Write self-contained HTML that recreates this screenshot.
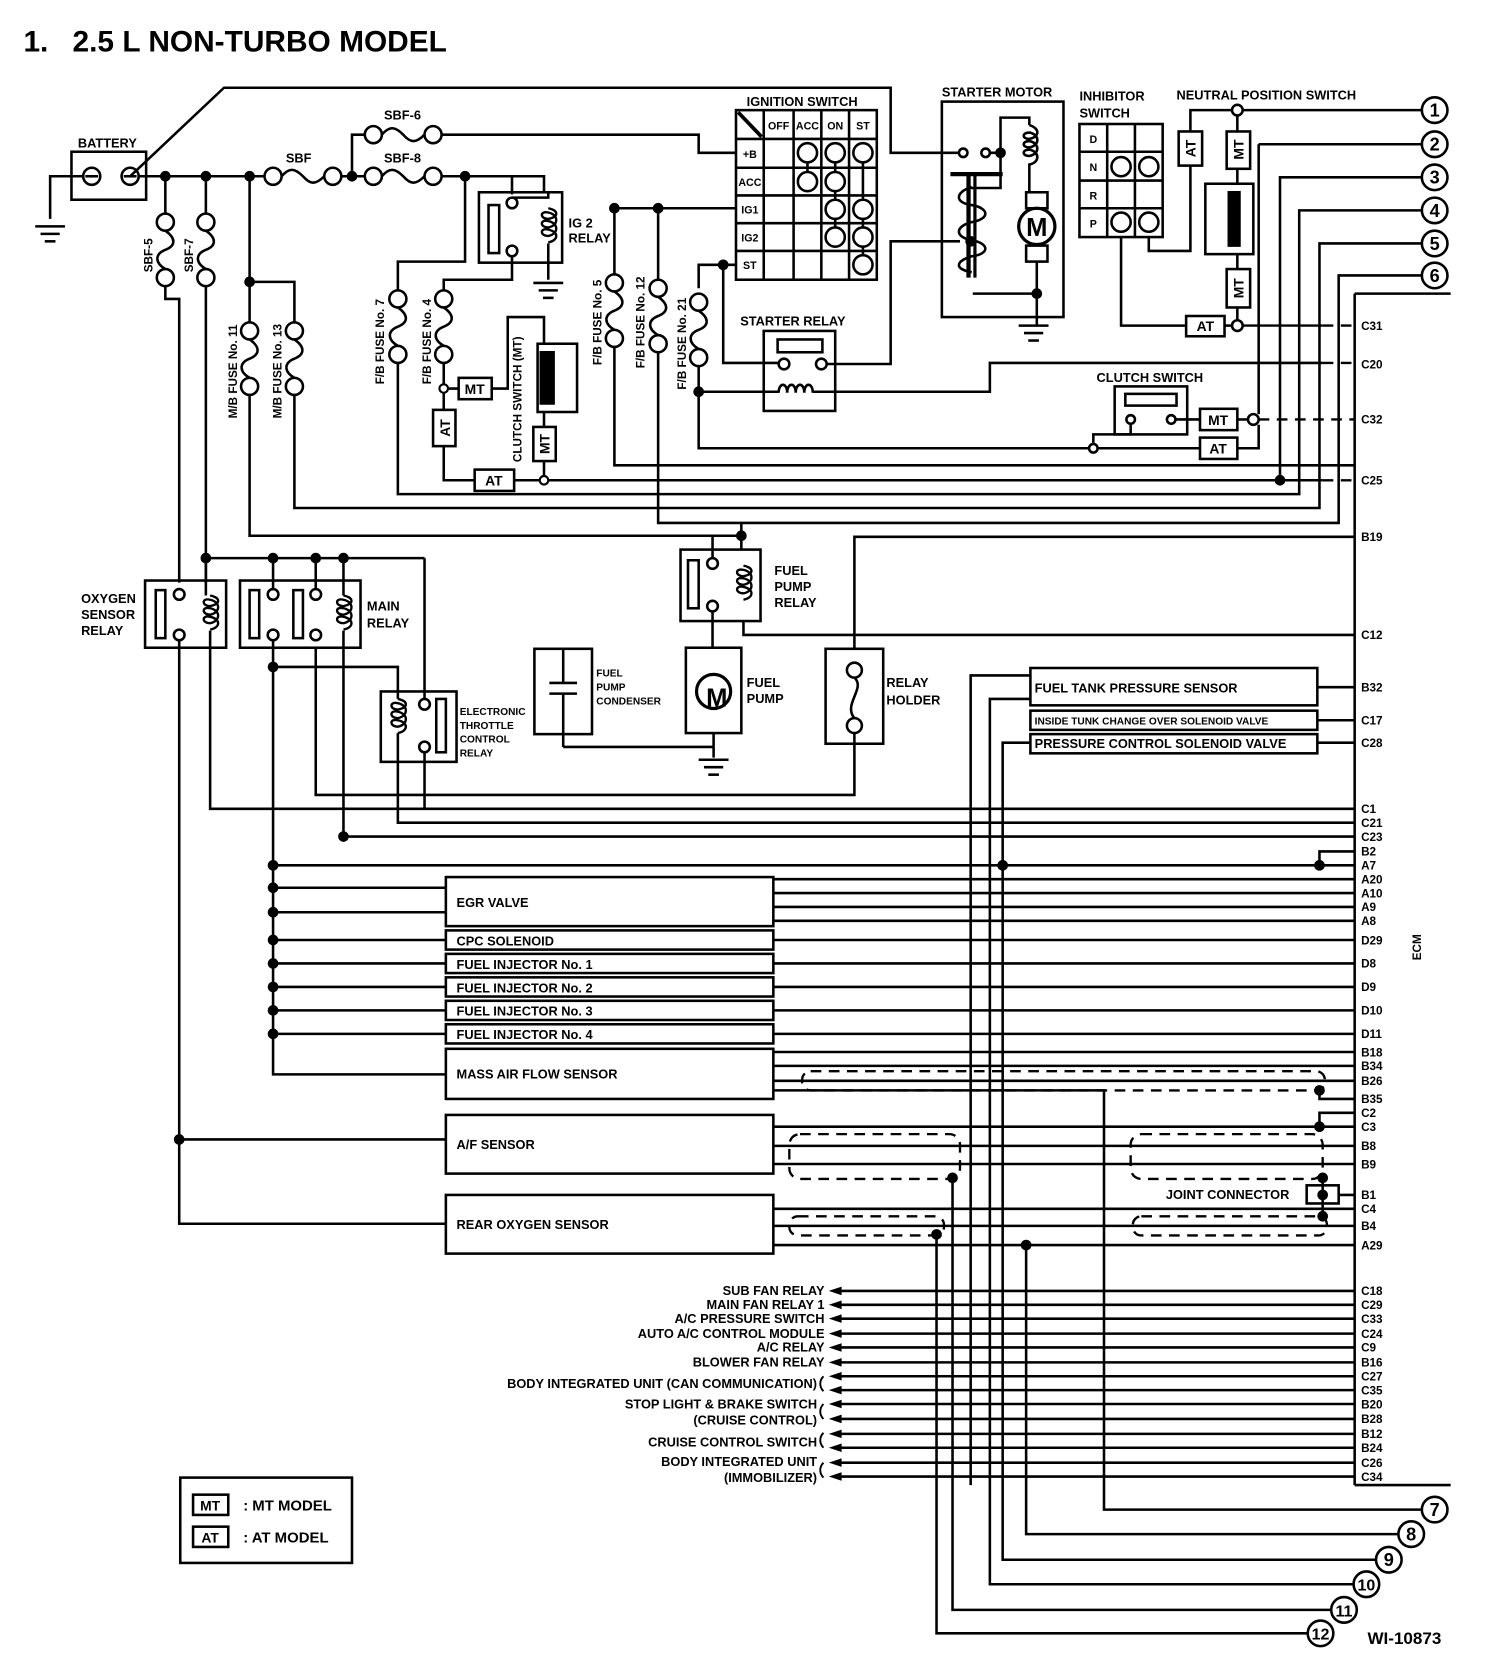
<!DOCTYPE html>
<html><head><meta charset="utf-8"><style>
html,body{margin:0;padding:0;background:#fff}
svg{display:block}
text{font-family:"Liberation Sans",sans-serif;font-weight:bold;fill:#000}
</style></head><body>
<svg width="1504" height="1672" viewBox="0 0 1410 1567" xmlns="http://www.w3.org/2000/svg">
<defs>
<g id="fv"><circle cx="0" cy="0" r="8" fill="#fff" stroke="#000" stroke-width="2.4"/><circle cx="0" cy="52" r="8" fill="#fff" stroke="#000" stroke-width="2.4"/><path d="M0,8 C10,15 10,22 0,26 C-10,30 -10,38 0,44" fill="none" stroke="#000" stroke-width="2.4"/></g>
<g id="fh"><circle cx="0" cy="0" r="8" fill="#fff" stroke="#000" stroke-width="2.4"/><circle cx="56" cy="0" r="8" fill="#fff" stroke="#000" stroke-width="2.4"/><path d="M8,0 C15,-8 20,-8 28,0 C35,8 40,8 48,0" fill="none" stroke="#000" stroke-width="2.4"/></g>
<g id="coil"><path d="M0,0 C10,2 10,8 0,10 C-8,10 -8,2 0,4 C10,6 10,16 0,18 C-8,18 -8,10 0,12 C10,14 10,24 0,26 C-8,26 -8,18 0,20 C10,22 10,30 0,32" fill="none" stroke="#000" stroke-width="2.2"/></g>
<g id="gnd"><line x1="-14" y1="0" x2="14" y2="0"/><line x1="-9" y1="7" x2="9" y2="7"/><line x1="-5" y1="14" x2="5" y2="14"/></g>
</defs>
<text x="22" y="48" font-size="28">1.</text><text x="68" y="48" font-size="28">2.5 L NON-TURBO MODEL</text>

<g stroke="#000" stroke-width="2.4" fill="none">
<rect x="67" y="142" width="70" height="45"/>
<circle cx="86" cy="165" r="8"/><line x1="80" y1="165" x2="92" y2="165"/>
<circle cx="122" cy="165" r="8"/><line x1="116" y1="165" x2="128" y2="165"/>
<polyline points="78,165 47,165 47,205"/>
<polyline points="122,165 210,82 835,82 835,143 900,143"/>
<line x1="130" y1="165" x2="248" y2="165"/>
<line x1="320" y1="165" x2="342" y2="165"/>
<polyline points="330,165 330,126 342,126"/>
<polyline points="413,126 655,126 655,143 690,143"/>
<polyline points="413,165 510,165 510,180"/>
<polyline points="480,165 480,182"/>
<rect x="449" y="180" width="78" height="66"/>
<rect x="458" y="192" width="10" height="45"/>
<circle cx="480" cy="190" r="5"/><circle cx="480" cy="235" r="5"/>
<use href="#coil" x="514" y="195"/>
<polyline points="514,180 514,185 480,185"/>
<polyline points="514,228 514,262"/>
<polyline points="436,165 436,245 373,245 373,276"/>
<polyline points="480,240 480,262 416,262 416,274"/>
<line x1="155" y1="165" x2="155" y2="200"/>
<polyline points="155,268 155,280 168,280 168,546"/>
<line x1="193" y1="165" x2="193" y2="200"/>
<line x1="193" y1="268" x2="193" y2="546"/>
<line x1="234" y1="165" x2="234" y2="302"/>
<polyline points="234,264 276,264 276,302"/>
<polyline points="234,370 234,502 695,502"/>
<polyline points="276,370 276,476 1237,476 1237,228 1333,228"/>
<polyline points="373,340 373,463 1218,463 1218,197 1333,197"/>
<polyline points="416,340 416,364 430,364"/>
<rect x="430" y="354" width="31" height="20"/>
<polyline points="461,364 476,364 476,297 510,297 510,322"/>
<rect x="504" y="322" width="37" height="64"/>
<rect x="507" y="330" width="12" height="48" fill="#000"/>
<line x1="510" y1="386" x2="510" y2="400"/>
<rect x="500" y="400" width="21" height="32"/>
<line x1="510" y1="432" x2="510" y2="450"/>
<line x1="416" y1="364" x2="416" y2="384"/>
<rect x="406" y="384" width="21" height="34"/>
<polyline points="416,418 416,450 445,450"/>
<rect x="445" y="440" width="37" height="20"/>
<line x1="482" y1="450" x2="1240" y2="450"/>
<polyline points="1200,450 1200,166 1333,166"/>
<line x1="576" y1="195" x2="690" y2="195"/>
<line x1="576" y1="195" x2="576" y2="262"/>
<polyline points="576,320 576,436 1270,436"/>
<line x1="617" y1="195" x2="617" y2="268"/>
<polyline points="617,330 617,490 1255,490 1255,258 1333,258"/>
<polyline points="690,248 655,248 655,270"/>
<polyline points="678,248 678,340 730,340"/>
<polyline points="655,330 655,420 1020,420"/>
<polyline points="655,367 730,367"/>
<rect x="716" y="310" width="67" height="75"/>
<rect x="729" y="318" width="42" height="12"/>
<circle cx="735" cy="341" r="5"/><circle cx="770" cy="341" r="5"/>
<path d="M730,368 c0,-10 8,-10 8,0 c0,-10 8,-10 8,0 c0,-10 8,-10 8,0 c0,-10 8,-10 8,0"/>
<polyline points="775,341 835,341 835,226 900,226"/>
<polyline points="762,367 928,367 928,340 1240,340"/>
<rect x="690" y="103" width="132" height="159"/>
<line x1="716" y1="103" x2="716" y2="262"/><line x1="744" y1="103" x2="744" y2="262"/>
<line x1="770" y1="103" x2="770" y2="262"/><line x1="796" y1="103" x2="796" y2="262"/>
<line x1="690" y1="130" x2="822" y2="130"/><line x1="690" y1="157" x2="822" y2="157"/>
<line x1="690" y1="183" x2="822" y2="183"/><line x1="690" y1="209" x2="822" y2="209"/>
<line x1="690" y1="235" x2="822" y2="235"/>
<line x1="692" y1="105" x2="714" y2="128" stroke-width="3.5"/>
<line x1="757" y1="143" x2="757" y2="170"/>
<line x1="783" y1="143" x2="783" y2="222"/>
<line x1="809" y1="143" x2="809" y2="248"/>
<g fill="#fff">
<circle cx="757" cy="143" r="9"/><circle cx="783" cy="143" r="9"/><circle cx="809" cy="143" r="9"/>
<circle cx="757" cy="170" r="9"/><circle cx="783" cy="170" r="9"/>
<circle cx="783" cy="196" r="9"/><circle cx="809" cy="196" r="9"/>
<circle cx="783" cy="222" r="9"/><circle cx="809" cy="222" r="9"/>
<circle cx="809" cy="248" r="9"/>
</g>
<rect x="883" y="95" width="114" height="202"/>
<circle cx="903" cy="143" r="4"/><circle cx="924" cy="143" r="4"/>
<polyline points="928,143 938,143 938,110 965,110 965,117"/>
<polyline points="938,143 938,176 910,176"/>
<line x1="891" y1="163" x2="940" y2="163" stroke-width="4"/>
<line x1="908" y1="163" x2="908" y2="260" stroke-width="4"/>
<line x1="914" y1="163" x2="914" y2="260" stroke-width="3"/>
<path d="M911,175 C895,180 895,190 911,192 C928,195 928,205 911,208 C895,212 895,222 911,225 C928,228 928,238 911,240 C895,245 895,252 911,255"/>
<path d="M965,117 C975,120 975,128 965,130 C958,130 958,124 965,124 C975,126 975,136 965,138 C958,138 958,132 965,132 C975,134 975,144 965,146 C958,146 958,140 965,140 C975,142 975,152 965,154 L965,180"/>
<rect x="962" y="180" width="20" height="15"/><rect x="962" y="230" width="20" height="15"/>
<circle cx="972" cy="212" r="17" stroke-width="3"/>
<polyline points="972,245 972,275 912,275"/>
<line x1="972" y1="275" x2="972" y2="305"/>
<rect x="1012" y="116" width="78" height="106"/>
<line x1="1038" y1="116" x2="1038" y2="222"/><line x1="1064" y1="116" x2="1064" y2="222"/>
<line x1="1012" y1="142" x2="1090" y2="142"/><line x1="1012" y1="169" x2="1090" y2="169"/><line x1="1012" y1="195" x2="1090" y2="195"/>
<circle cx="1051" cy="156" r="9"/><circle cx="1077" cy="156" r="9"/>
<circle cx="1051" cy="208" r="9"/><circle cx="1077" cy="208" r="9"/>
<polyline points="1077,222 1077,235 1116,235 1116,155"/>
<rect x="1105" y="123" width="22" height="32"/>
<polyline points="1116,123 1116,103 1333,103"/>
<circle cx="1160" cy="103" r="5" fill="#fff"/>
<rect x="1150" y="123" width="22" height="35"/>
<line x1="1160" y1="108" x2="1160" y2="123"/>
<line x1="1160" y1="158" x2="1160" y2="172"/>
<rect x="1130" y="172" width="45" height="66"/>
<rect x="1152" y="180" width="10" height="50" fill="#000"/>
<line x1="1160" y1="238" x2="1160" y2="252"/>
<rect x="1150" y="252" width="22" height="36"/>
<line x1="1160" y1="288" x2="1160" y2="300"/>
<circle cx="1160" cy="305" r="5" fill="#fff"/>
<polyline points="1051,222 1051,305 1112,305"/>
<rect x="1112" y="296" width="36" height="19"/>
<line x1="1148" y1="305" x2="1155" y2="305"/>
<polyline points="1180,135 1333,135"/><line x1="1180" y1="135" x2="1180" y2="388"/>
<line x1="1270" y1="275" x2="1360" y2="275"/>
<rect x="1045" y="362" width="68" height="45"/>
<rect x="1055" y="369" width="48" height="11"/>
<circle cx="1060" cy="393" r="4"/><circle cx="1098" cy="393" r="4"/>
<polyline points="1060,397 1060,407 1025,407 1025,415"/>
<circle cx="1025" cy="420" r="4" fill="#fff"/>
<polyline points="1029,420 1125,420"/>
<line x1="1102" y1="393" x2="1125" y2="393"/>
<rect x="1125" y="383" width="35" height="20"/>
<rect x="1125" y="410" width="35" height="20"/>
<line x1="1160" y1="393" x2="1170" y2="393"/>
<polyline points="1160,420 1180,420 1180,398"/>
<circle cx="1175" cy="393" r="5" fill="#fff"/>
<line x1="1270" y1="275" x2="1270" y2="1392"/>
<line x1="1270" y1="1392" x2="1360" y2="1392"/>
<line x1="695" y1="490" x2="695" y2="515"/>
<rect x="638" y="515" width="75" height="67"/>
<rect x="645" y="525" width="10" height="45"/>
<circle cx="668" cy="528" r="5"/><circle cx="668" cy="568" r="5"/>
<use href="#coil" x="697" y="530"/>
<polyline points="668,523 668,502"/>
<polyline points="697,582 697,595 1270,595"/>
<line x1="668" y1="573" x2="668" y2="607"/>
<rect x="643" y="607" width="52" height="80"/>
<circle cx="669" cy="648" r="16" stroke-width="3"/>
<polyline points="669,687 669,710"/>
<rect x="501" y="608" width="54" height="80"/>
<line x1="528" y1="608" x2="528" y2="640"/><line x1="515" y1="640" x2="541" y2="640"/><line x1="515" y1="650" x2="541" y2="650"/><line x1="528" y1="650" x2="528" y2="700"/>
<polyline points="528,700 669,700"/>
<rect x="774" y="608" width="54" height="89"/>
<circle cx="801" cy="628" r="7"/><circle cx="801" cy="680" r="7"/>
<path d="M801,635 C812,645 790,660 801,673"/>
<polyline points="801,608 801,503 1270,503"/>
<polyline points="801,687 801,745 296,745 296,606"/>
<rect x="136" y="544" width="76" height="63"/>
<rect x="146" y="553" width="9" height="45"/>
<circle cx="168" cy="557" r="5"/><circle cx="168" cy="595" r="5"/>
<use href="#coil" x="197" y="558"/>
<polyline points="168,600 168,1147 418,1147"/>
<polyline points="197,591 197,607 197,758 1270,758"/>
<line x1="193" y1="523" x2="193" y2="558"/>
<line x1="193" y1="523" x2="398" y2="523"/>
<polyline points="398,523 398,655"/>
<line x1="168" y1="1068" x2="418" y2="1068"/>
<rect x="225" y="544" width="113" height="63"/>
<rect x="234" y="553" width="9" height="45"/>
<rect x="275" y="553" width="9" height="45"/>
<circle cx="256" cy="557" r="5"/><circle cx="256" cy="595" r="5"/>
<circle cx="296" cy="557" r="5"/><circle cx="296" cy="595" r="5"/>
<use href="#coil" x="322" y="558"/>
<line x1="256" y1="523" x2="256" y2="552"/><line x1="296" y1="523" x2="296" y2="552"/><line x1="322" y1="523" x2="322" y2="558"/>
<polyline points="322,591 322,784 1270,784"/>
<polyline points="256,600 256,1007 418,1007"/>
<polyline points="256,625 373,625 373,655"/>
<rect x="357" y="648" width="71" height="66"/>
<use href="#coil" x="373" y="655"/>
<circle cx="398" cy="660" r="5"/><circle cx="398" cy="700" r="5"/>
<rect x="409" y="655" width="9" height="50"/>
<polyline points="373,687 373,771 1270,771"/>
<polyline points="398,705 398,758"/>
<rect x="966" y="626" width="269" height="35"/>
<rect x="966" y="666" width="269" height="18"/>
<rect x="966" y="688" width="269" height="18"/>
<line x1="1235" y1="644" x2="1270" y2="644"/>
<line x1="1235" y1="675" x2="1270" y2="675"/>
<line x1="1235" y1="696" x2="1270" y2="696"/>
<polyline points="966,633 910,633 910,1392"/>
<polyline points="966,655 928,655 928,1485 1269,1485"/>
<polyline points="966,696 940,696 940,1462 1290,1462"/>
<line x1="256" y1="811" x2="1270" y2="811"/>
<polyline points="1237,811 1237,798 1270,798"/>
<rect x="418" y="822" width="307" height="46"/>
<rect x="418" y="872" width="307" height="18"/>
<rect x="418" y="894" width="307" height="18"/>
<rect x="418" y="916" width="307" height="18"/>
<rect x="418" y="938" width="307" height="18"/>
<rect x="418" y="960" width="307" height="18"/>
<rect x="418" y="983" width="307" height="47"/>
<rect x="418" y="1045" width="307" height="55"/>
<rect x="418" y="1120" width="307" height="55"/>
<line x1="256" y1="832" x2="418" y2="832"/><line x1="256" y1="855" x2="418" y2="855"/>
<line x1="256" y1="881" x2="418" y2="881"/><line x1="256" y1="903" x2="418" y2="903"/>
<line x1="256" y1="925" x2="418" y2="925"/><line x1="256" y1="947" x2="418" y2="947"/>
<line x1="256" y1="969" x2="418" y2="969"/>
<line x1="725" y1="824" x2="1270" y2="824"/><line x1="725" y1="837" x2="1270" y2="837"/>
<line x1="725" y1="850" x2="1270" y2="850"/><line x1="725" y1="863" x2="1270" y2="863"/>
<line x1="725" y1="881" x2="1270" y2="881"/><line x1="725" y1="903" x2="1270" y2="903"/>
<line x1="725" y1="925" x2="1270" y2="925"/><line x1="725" y1="947" x2="1270" y2="947"/>
<line x1="725" y1="969" x2="1270" y2="969"/>
<line x1="725" y1="986" x2="1270" y2="986"/><line x1="725" y1="999" x2="1270" y2="999"/>
<line x1="725" y1="1013" x2="1270" y2="1013"/>
<polyline points="1237,1022 1237,1030 1270,1030"/>
<polyline points="725,1022 1035,1022 1035,1415 1333,1415"/>
<polyline points="1237,1056 1237,1043 1270,1043"/>
<line x1="725" y1="1056" x2="1270" y2="1056"/>
<line x1="725" y1="1074" x2="1270" y2="1074"/><line x1="725" y1="1091" x2="1270" y2="1091"/>
<polyline points="893,1104 893,1509 1248,1509"/>
<rect x="1225" y="1111" width="30" height="17"/>
<line x1="1255" y1="1120" x2="1270" y2="1120"/>
<line x1="1240" y1="1104" x2="1240" y2="1140"/>
<line x1="725" y1="1133" x2="1270" y2="1133"/>
<line x1="725" y1="1149" x2="1270" y2="1149"/>
<line x1="725" y1="1167" x2="1270" y2="1167"/>
<polyline points="878,1157 878,1531 1226,1531"/>
<polyline points="962,1167 962,1438 1311,1438"/>
<line x1="785" y1="1210" x2="1270" y2="1210"/><line x1="785" y1="1223" x2="1270" y2="1223"/>
<line x1="785" y1="1236" x2="1270" y2="1236"/><line x1="785" y1="1250" x2="1270" y2="1250"/>
<line x1="785" y1="1263" x2="1270" y2="1263"/><line x1="785" y1="1277" x2="1270" y2="1277"/>
<line x1="785" y1="1290" x2="1270" y2="1290"/><line x1="785" y1="1303" x2="1270" y2="1303"/>
<line x1="785" y1="1316" x2="1270" y2="1316"/><line x1="785" y1="1330" x2="1270" y2="1330"/>
<line x1="785" y1="1344" x2="1270" y2="1344"/><line x1="785" y1="1357" x2="1270" y2="1357"/>
<line x1="785" y1="1371" x2="1270" y2="1371"/><line x1="785" y1="1384" x2="1270" y2="1384"/>
<path d="M772,1290 c-4,4 -4,10 0,14 M772,1316 c-4,4 -4,10 0,14 M772,1343 c-4,4 -4,10 0,14 M772,1371 c-4,4 -4,10 0,14" stroke-width="1.8"/>
<rect x="169" y="1385" width="161" height="80"/>
<rect x="181" y="1401" width="33" height="19"/>
<rect x="181" y="1431" width="33" height="19"/>
</g>
<g fill="#000">
<path d="M777,1210 l12,-4 v8z M777,1223 l12,-4 v8z M777,1236 l12,-4 v8z M777,1250 l12,-4 v8z M777,1263 l12,-4 v8z M777,1277 l12,-4 v8z M777,1290 l12,-4 v8z M777,1303 l12,-4 v8z M777,1316 l12,-4 v8z M777,1330 l12,-4 v8z M777,1344 l12,-4 v8z M777,1357 l12,-4 v8z M777,1371 l12,-4 v8z M777,1384 l12,-4 v8z"/>
</g>
<use href="#fh" x="256" y="165"/>
<use href="#fh" x="350" y="126"/>
<use href="#fh" x="350" y="165"/>
<use href="#fv" x="155" y="208"/>
<use href="#fv" x="193" y="208"/>
<use href="#fv" x="234" y="310"/>
<use href="#fv" x="276" y="310"/>
<use href="#fv" x="373" y="280"/>
<use href="#fv" x="416" y="280"/>
<use href="#fv" x="576" y="265"/>
<use href="#fv" x="617" y="270"/>
<use href="#fv" x="655" y="283"/>
<g stroke="#000" stroke-width="2.4"><use href="#gnd" x="47" y="212"/><use href="#gnd" x="514" y="265"/><use href="#gnd" x="969" y="305"/><use href="#gnd" x="669" y="712"/></g>
<g stroke="#000" stroke-width="2.2" fill="none" stroke-dasharray="10,7">
<line x1="1165" y1="305" x2="1240" y2="305" stroke-dasharray="none"/>
<line x1="1240" y1="305" x2="1270" y2="305"/>
<line x1="1240" y1="340" x2="1270" y2="340"/>
<line x1="1180" y1="393" x2="1270" y2="393"/>
<line x1="1240" y1="450" x2="1270" y2="450"/>
<rect x="752" y="1004" width="490" height="18" rx="8"/>
<rect x="740" y="1063" width="160" height="42" rx="10"/>
<rect x="1060" y="1063" width="180" height="42" rx="10"/>
<rect x="740" y="1140" width="145" height="18" rx="8"/>
<rect x="1062" y="1140" width="182" height="18" rx="8"/>
</g>
<g fill="#000">
<circle cx="155" cy="165" r="5"/><circle cx="193" cy="165" r="5"/><circle cx="234" cy="165" r="5"/><circle cx="330" cy="165" r="5"/><circle cx="436" cy="165" r="5"/>
<circle cx="234" cy="264" r="5"/><circle cx="576" cy="195" r="5"/><circle cx="617" cy="195" r="5"/><circle cx="678" cy="248" r="5"/><circle cx="655" cy="367" r="5"/>
<circle cx="938" cy="143" r="5"/><circle cx="910" cy="226" r="5"/><circle cx="972" cy="275" r="5"/>
<circle cx="1200" cy="450" r="5"/><circle cx="695" cy="502" r="5"/>
<circle cx="193" cy="523" r="5"/><circle cx="256" cy="523" r="5"/><circle cx="296" cy="523" r="5"/><circle cx="322" cy="523" r="5"/>
<circle cx="256" cy="625" r="5"/><circle cx="322" cy="784" r="5"/>
<circle cx="256" cy="811" r="5"/><circle cx="256" cy="832" r="5"/><circle cx="256" cy="855" r="5"/><circle cx="256" cy="881" r="5"/><circle cx="256" cy="903" r="5"/><circle cx="256" cy="925" r="5"/><circle cx="256" cy="947" r="5"/><circle cx="256" cy="969" r="5"/>
<circle cx="940" cy="811" r="5"/><circle cx="1237" cy="811" r="5"/>
<circle cx="1237" cy="1022" r="5"/><circle cx="1237" cy="1056" r="5"/>
<circle cx="168" cy="1068" r="5"/><circle cx="893" cy="1104" r="5"/><circle cx="878" cy="1157" r="5"/><circle cx="962" cy="1167" r="5"/>
<circle cx="1240" cy="1104" r="5"/><circle cx="1240" cy="1120" r="5"/><circle cx="1240" cy="1140" r="5"/>
</g>
<g fill="#fff" stroke="#000" stroke-width="2"><circle cx="416" cy="364" r="4"/><circle cx="510" cy="450" r="4"/></g>
<g fill="#fff" stroke="#000" stroke-width="2.4">
<circle cx="1345" cy="103" r="12"/><circle cx="1345" cy="135" r="12"/><circle cx="1345" cy="166" r="12"/><circle cx="1345" cy="197" r="12"/><circle cx="1345" cy="228" r="12"/><circle cx="1345" cy="258" r="12"/>
<circle cx="1345" cy="1415" r="12"/><circle cx="1323" cy="1438" r="12"/><circle cx="1302" cy="1462" r="12"/><circle cx="1281" cy="1485" r="12"/><circle cx="1260" cy="1509" r="12"/><circle cx="1238" cy="1531" r="12"/>
</g>
<g font-size="17" text-anchor="middle">
<text x="1345" y="109">1</text><text x="1345" y="141">2</text><text x="1345" y="172">3</text><text x="1345" y="203">4</text><text x="1345" y="234">5</text><text x="1345" y="264">6</text>
<text x="1345" y="1421">7</text><text x="1323" y="1444">8</text><text x="1302" y="1468">9</text>
<text x="1281" y="1491" font-size="15">10</text><text x="1260" y="1515" font-size="15">11</text><text x="1238" y="1537" font-size="15">12</text>
</g>
<g font-size="12">
<text x="73" y="138">BATTERY</text>
<text x="268" y="152">SBF</text>
<text x="360" y="112">SBF-6</text>
<text x="360" y="152">SBF-8</text>
<text x="533" y="213">IG 2</text><text x="533" y="227">RELAY</text>
<text x="700" y="99">IGNITION SWITCH</text>
<text x="883" y="90">STARTER MOTOR</text>
<text x="1012" y="94">INHIBITOR</text><text x="1012" y="110">SWITCH</text>
<text x="1103" y="93">NEUTRAL POSITION SWITCH</text>
<text x="694" y="305">STARTER RELAY</text>
<text x="1028" y="358">CLUTCH SWITCH</text>
<text x="726" y="539">FUEL</text><text x="726" y="554">PUMP</text><text x="726" y="569">RELAY</text>
<text x="700" y="644">FUEL</text><text x="700" y="659">PUMP</text>
<text x="831" y="644">RELAY</text><text x="831" y="660">HOLDER</text>
<text x="76" y="565">OXYGEN</text><text x="76" y="580">SENSOR</text><text x="76" y="595">RELAY</text>
<text x="344" y="572">MAIN</text><text x="344" y="588">RELAY</text>
<text x="970" y="649">FUEL TANK PRESSURE SENSOR</text>
<text x="970" y="701">PRESSURE CONTROL SOLENOID VALVE</text>
<text x="1093" y="1124">JOINT CONNECTOR</text>
<text x="1282" y="1541" font-weight="normal" font-size="16">WI-10873</text>
<text x="228" y="1416" font-size="14">: MT MODEL</text>
<text x="228" y="1446" font-size="14">: AT MODEL</text>
<text x="197" y="1416" font-size="13" text-anchor="middle">MT</text>
<text x="197" y="1446" font-size="13" text-anchor="middle">AT</text>
<text x="428" y="850">EGR VALVE</text>
<text x="428" y="886">CPC SOLENOID</text>
<text x="428" y="908">FUEL INJECTOR No. 1</text>
<text x="428" y="930">FUEL INJECTOR No. 2</text>
<text x="428" y="952">FUEL INJECTOR No. 3</text>
<text x="428" y="974">FUEL INJECTOR No. 4</text>
<text x="428" y="1011">MASS AIR FLOW SENSOR</text>
<text x="428" y="1077">A/F SENSOR</text>
<text x="428" y="1152">REAR OXYGEN SENSOR</text>
</g>
<g font-size="9.5">
<text x="970" y="679">INSIDE TUNK CHANGE OVER SOLENOID VALVE</text>
<text x="431" y="670">ELECTRONIC</text><text x="431" y="683">THROTTLE</text><text x="431" y="696">CONTROL</text><text x="431" y="709">RELAY</text>
<text x="559" y="634">FUEL</text><text x="559" y="647">PUMP</text><text x="559" y="660">CONDENSER</text>
</g>
<g font-size="10" text-anchor="middle">
<text x="703" y="148">+B</text><text x="703" y="174">ACC</text><text x="703" y="200">IG1</text><text x="703" y="226">IG2</text><text x="703" y="252">ST</text>
<text x="730" y="121">OFF</text><text x="757" y="121">ACC</text><text x="783" y="121">ON</text><text x="809" y="121">ST</text>
<text x="1025" y="134">D</text><text x="1025" y="160">N</text><text x="1025" y="187">R</text><text x="1025" y="213">P</text>
</g>
<g font-size="13" text-anchor="middle">
<text x="445" y="369">MT</text><text x="463" y="455">AT</text>
<text x="1130" y="310">AT</text><text x="1142" y="398">MT</text><text x="1142" y="425">AT</text>
<text transform="translate(422,401) rotate(-90)">AT</text>
<text transform="translate(515,416) rotate(-90)">MT</text>
<text transform="translate(1121,139) rotate(-90)">AT</text>
<text transform="translate(1166,140) rotate(-90)">MT</text>
<text transform="translate(1166,270) rotate(-90)">MT</text>
<text x="672" y="662" font-size="24">M</text>
<text x="972" y="221" font-size="24">M</text>
</g>
<g font-size="11">
<text transform="translate(143,255) rotate(-90)">SBF-5</text>
<text transform="translate(181,255) rotate(-90)">SBF-7</text>
<text transform="translate(222,392) rotate(-90)">M/B FUSE No. 11</text>
<text transform="translate(264,392) rotate(-90)">M/B FUSE No. 13</text>
<text transform="translate(360,360) rotate(-90)">F/B FUSE No. 7</text>
<text transform="translate(404,360) rotate(-90)">F/B FUSE No. 4</text>
<text transform="translate(564,342) rotate(-90)">F/B FUSE No. 5</text>
<text transform="translate(604,345) rotate(-90)">F/B FUSE No. 12</text>
<text transform="translate(643,365) rotate(-90)">F/B FUSE No. 21</text>
<text transform="translate(489,433) rotate(-90)">CLUTCH  SWITCH (MT)</text>
<text transform="translate(1332,900) rotate(-90)">ECM</text>
</g>
<g font-size="11">
<text x="1276" y="309">C31</text><text x="1276" y="345">C20</text><text x="1276" y="397">C32</text><text x="1276" y="454">C25</text>
<text x="1276" y="507">B19</text><text x="1276" y="599">C12</text><text x="1276" y="648">B32</text><text x="1276" y="679">C17</text><text x="1276" y="700">C28</text>
<text x="1276" y="762">C1</text><text x="1276" y="775">C21</text><text x="1276" y="788">C23</text><text x="1276" y="802">B2</text><text x="1276" y="815">A7</text>
<text x="1276" y="828">A20</text><text x="1276" y="841">A10</text><text x="1276" y="854">A9</text><text x="1276" y="867">A8</text>
<text x="1276" y="885">D29</text><text x="1276" y="907">D8</text><text x="1276" y="929">D9</text><text x="1276" y="951">D10</text><text x="1276" y="973">D11</text>
<text x="1276" y="990">B18</text><text x="1276" y="1003">B34</text><text x="1276" y="1017">B26</text><text x="1276" y="1034">B35</text><text x="1276" y="1047">C2</text><text x="1276" y="1060">C3</text>
<text x="1276" y="1078">B8</text><text x="1276" y="1095">B9</text><text x="1276" y="1124">B1</text><text x="1276" y="1137">C4</text><text x="1276" y="1153">B4</text><text x="1276" y="1171">A29</text>
<text x="1276" y="1214">C18</text><text x="1276" y="1227">C29</text><text x="1276" y="1240">C33</text><text x="1276" y="1254">C24</text><text x="1276" y="1267">C9</text><text x="1276" y="1281">B16</text>
<text x="1276" y="1294">C27</text><text x="1276" y="1307">C35</text><text x="1276" y="1320">B20</text><text x="1276" y="1334">B28</text><text x="1276" y="1348">B12</text><text x="1276" y="1361">B24</text>
<text x="1276" y="1375">C26</text><text x="1276" y="1388">C34</text>
</g>
<g font-size="12" text-anchor="end">
<text x="773" y="1214">SUB FAN RELAY</text>
<text x="773" y="1227">MAIN FAN RELAY 1</text>
<text x="773" y="1240">A/C PRESSURE SWITCH</text>
<text x="773" y="1254">AUTO A/C CONTROL MODULE</text>
<text x="773" y="1267">A/C RELAY</text>
<text x="773" y="1281">BLOWER FAN RELAY</text>
<text x="766" y="1301">BODY INTEGRATED UNIT (CAN COMMUNICATION)</text>
<text x="766" y="1320">STOP LIGHT &amp; BRAKE SWITCH</text>
<text x="766" y="1335">(CRUISE CONTROL)</text>
<text x="766" y="1356">CRUISE CONTROL SWITCH</text>
<text x="766" y="1374">BODY INTEGRATED UNIT</text>
<text x="766" y="1389">(IMMOBILIZER)</text>
</g>
</svg>
</body></html>
